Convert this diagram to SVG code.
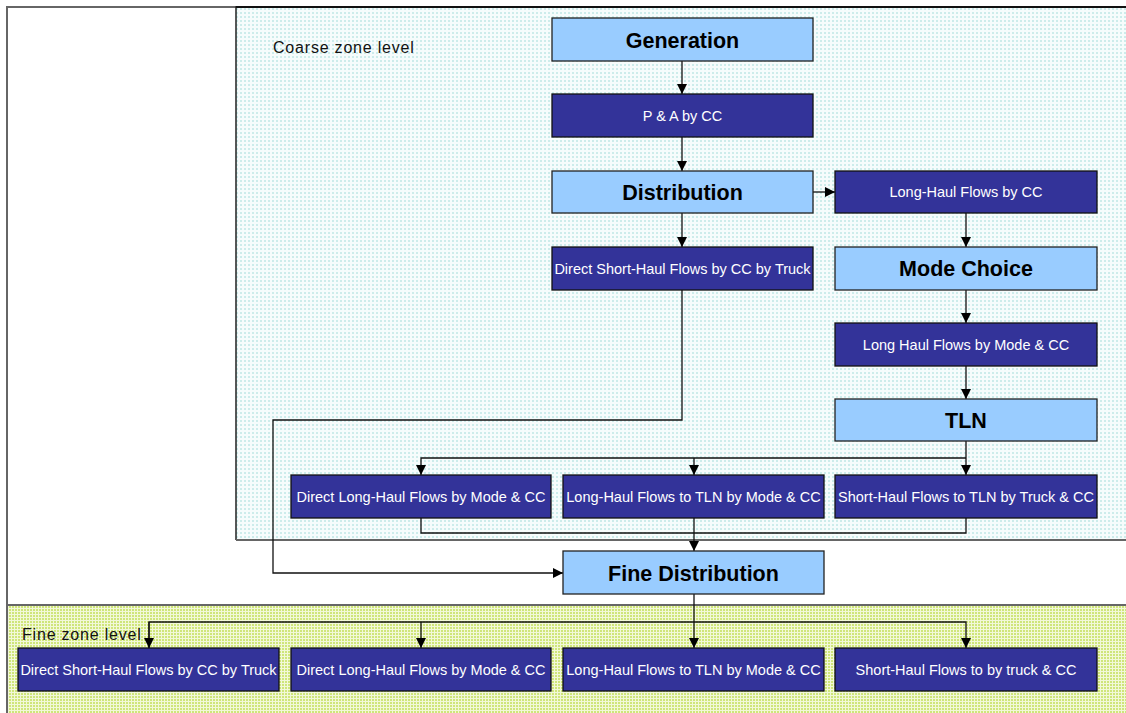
<svg xmlns="http://www.w3.org/2000/svg" width="1126" height="713" viewBox="0 0 1126 713">
  <style>
    .head { fill: #99ccff; stroke: #222; stroke-width: 1.3; }
    .flow { fill: #333399; stroke: #111; stroke-width: 1.3; }
    .ht { font-family: "Liberation Sans", Arial, sans-serif; font-size: 21.5px; font-weight: bold; fill: #000; text-anchor: middle; }
    .ft { font-family: "Liberation Sans", Arial, sans-serif; font-size: 14.5px; fill: #fff; text-anchor: middle; }
    .zone { font-family: "Liberation Sans", Arial, sans-serif; font-size: 16px; fill: #111; letter-spacing: 0.8px; }
    .wire { fill: none; stroke: #111; stroke-width: 1.3; }
  </style>
  <defs>
    <pattern id="cyanDots" width="4" height="4" patternUnits="userSpaceOnUse">
      <rect width="4" height="4" fill="#f6fcfc"/>
      <rect width="2" height="2" fill="#cdeceb"/>
    </pattern>
    <pattern id="limeDots" width="3" height="3" patternUnits="userSpaceOnUse">
      <rect width="3" height="3" fill="#f2f8d8"/>
      <rect width="2" height="2" fill="#cfe57a"/>
    </pattern>
    <marker id="arr" viewBox="0 0 10 10" refX="10" refY="5" markerWidth="10" markerHeight="10" markerUnits="userSpaceOnUse" orient="auto">
      <path d="M0,0 L10,5 L0,10 z" fill="#000"/>
    </marker>
  </defs>

  <rect width="1126" height="713" fill="#fff"/>

  <!-- outer frame -->
  <path d="M7,713 V7 H1126" fill="none" stroke="#666" stroke-width="2"/>

  <!-- coarse zone panel -->
  <g id="coarse-zone">
    <rect x="236" y="7" width="892" height="533" fill="url(#cyanDots)"/>
    <path d="M236,540 V7 H1126" fill="none" stroke="#222" stroke-width="1.5"/>
    <line x1="236" y1="7" x2="1126" y2="7" stroke="#111" stroke-width="2"/>
    <line x1="236" y1="540" x2="1126" y2="540" stroke="#666" stroke-width="2"/>
    <text class="zone" x="273" y="53">Coarse zone level</text>
  </g>

  <!-- fine zone panel -->
  <g id="fine-zone">
    <rect x="7" y="605" width="1121" height="110" fill="url(#limeDots)"/>
    <line x1="7" y1="605" x2="1126" y2="605" stroke="#666" stroke-width="2"/>
    <line x1="7" y1="605" x2="7" y2="713" stroke="#666" stroke-width="2"/>
    <text class="zone" x="22" y="640">Fine zone level</text>
  </g>

  <!-- connectors -->
  <g id="connectors">
    <path class="wire" d="M682,61 V94" marker-end="url(#arr)"/>
    <path class="wire" d="M682,137 V171" marker-end="url(#arr)"/>
    <path class="wire" d="M813,192 H835" marker-end="url(#arr)"/>
    <path class="wire" d="M682,213 V247" marker-end="url(#arr)"/>
    <path class="wire" d="M966,213 V247" marker-end="url(#arr)"/>
    <path class="wire" d="M966,290 V323" marker-end="url(#arr)"/>
    <path class="wire" d="M966,366 V399" marker-end="url(#arr)"/>
    <!-- TLN fan-out -->
    <path class="wire" d="M966,441 V475" marker-end="url(#arr)"/>
    <path class="wire" d="M966,458 H421 V475" marker-end="url(#arr)"/>
    <path class="wire" d="M694,458 V475" marker-end="url(#arr)"/>
    <!-- short-haul bypass to fine distribution -->
    <path class="wire" d="M682,290 V420 H273 V573 H563" marker-end="url(#arr)"/>
    <!-- coarse outputs merge -->
    <path class="wire" d="M421,518 V533 H966 V518"/>
    <path class="wire" d="M694,518 V551" marker-end="url(#arr)"/>
    <!-- fine distribution fan-out -->
    <path class="wire" d="M694,594 V648" marker-end="url(#arr)"/>
    <path class="wire" d="M149,648 V622 H966 V648" marker-end="url(#arr)"/>
    <path class="wire" d="M421,622 V648" marker-end="url(#arr)"/>
    <path class="wire" d="M149,622 V648" marker-end="url(#arr)"/>
  </g>

  <g id="generation">
    <rect class="head" x="552" y="18" width="261" height="43"/>
    <text class="ht" x="682.5" y="48">Generation</text>
  </g>
  <g id="pa-by-cc">
    <rect class="flow" x="552" y="94" width="261" height="43"/>
    <text class="ft" x="682.5" y="121">P &amp; A by CC</text>
  </g>
  <g id="distribution">
    <rect class="head" x="552" y="171" width="261" height="42"/>
    <text class="ht" x="682.5" y="200">Distribution</text>
  </g>
  <g id="long-haul-by-cc">
    <rect class="flow" x="835" y="171" width="262" height="42"/>
    <text class="ft" x="966" y="197">Long-Haul Flows by CC</text>
  </g>
  <g id="direct-short-haul">
    <rect class="flow" x="552" y="247" width="261" height="43"/>
    <text class="ft" x="682.5" y="274">Direct Short-Haul Flows by CC by Truck</text>
  </g>
  <g id="mode-choice">
    <rect class="head" x="835" y="247" width="262" height="43"/>
    <text class="ht" x="966" y="276">Mode Choice</text>
  </g>
  <g id="long-haul-by-mode">
    <rect class="flow" x="835" y="323" width="262" height="43"/>
    <text class="ft" x="966" y="350">Long Haul Flows by Mode &amp; CC</text>
  </g>
  <g id="tln">
    <rect class="head" x="835" y="399" width="262" height="42"/>
    <text class="ht" x="966" y="428">TLN</text>
  </g>
  <g id="direct-long-haul">
    <rect class="flow" x="291" y="475" width="260" height="43"/>
    <text class="ft" x="421" y="502">Direct Long-Haul Flows by Mode &amp; CC</text>
  </g>
  <g id="long-haul-to-tln">
    <rect class="flow" x="563" y="475" width="261" height="43"/>
    <text class="ft" x="693.5" y="502">Long-Haul Flows to TLN by Mode &amp; CC</text>
  </g>
  <g id="short-haul-to-tln">
    <rect class="flow" x="835" y="475" width="262" height="43"/>
    <text class="ft" x="966" y="502">Short-Haul Flows to TLN by Truck &amp; CC</text>
  </g>
  <g id="fine-distribution">
    <rect class="head" x="563" y="551" width="261" height="43"/>
    <text class="ht" x="693.5" y="581">Fine Distribution</text>
  </g>
  <g id="fine-direct-short-haul">
    <rect class="flow" x="18" y="648" width="261" height="43"/>
    <text class="ft" x="148.5" y="675">Direct Short-Haul Flows by CC by Truck</text>
  </g>
  <g id="fine-direct-long-haul">
    <rect class="flow" x="291" y="648" width="260" height="43"/>
    <text class="ft" x="421" y="675">Direct Long-Haul Flows by Mode &amp; CC</text>
  </g>
  <g id="fine-long-haul-to-tln">
    <rect class="flow" x="563" y="648" width="261" height="43"/>
    <text class="ft" x="693.5" y="675">Long-Haul Flows to TLN by Mode &amp; CC</text>
  </g>
  <g id="fine-short-haul">
    <rect class="flow" x="835" y="648" width="262" height="43"/>
    <text class="ft" x="966" y="675">Short-Haul Flows to by truck &amp; CC</text>
  </g>
</svg>
